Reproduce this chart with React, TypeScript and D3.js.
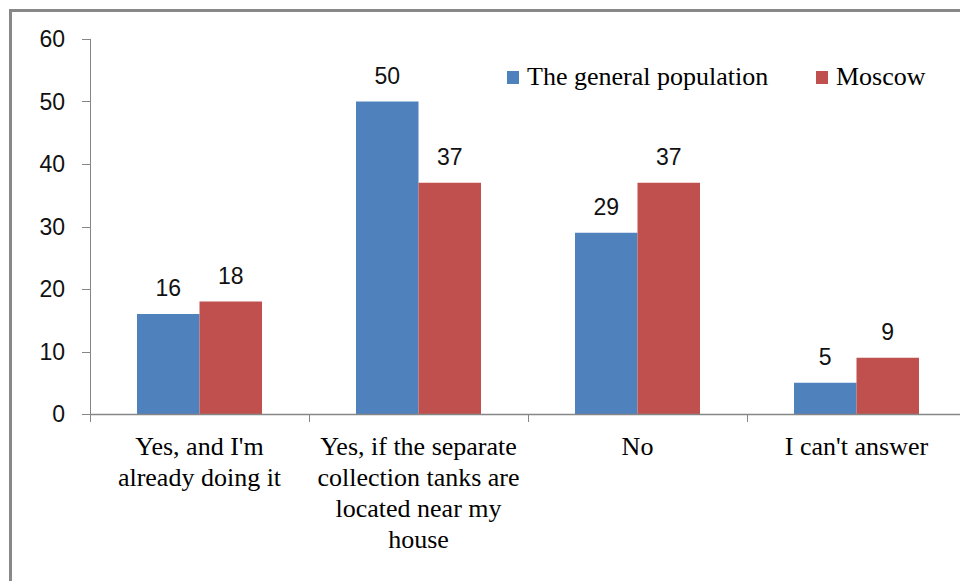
import React from "react";
import * as d3 from "d3";

const categories = [
  ["Yes, and I'm", "already doing it"],
  ["Yes, if the separate", "collection tanks are", "located near my", "house"],
  ["No"],
  ["I can't answer"],
];
const seriesNames = ["The general population", "Moscow"];
const generalValues = [16, 50, 29, 5];
const moscowValues = [18, 37, 37, 9];
const yTicks = [0, 10, 20, 30, 40, 50, 60];
const colors = ["#4F81BD", "#C0504D"];

const W = 960;
const H = 581;
const left = 90;
const right = 966;
const top = 39;
const bottom = 414;

export default function App() {
  const keys = categories.map((_, i) => String(i));
  const x0 = d3.scaleBand<string>().domain(keys).range([left, right]);
  const x1 = d3
    .scaleBand<string>()
    .domain(["0", "1"])
    .range([47, x0.bandwidth() - 47]);
  const y = d3.scaleLinear().domain([0, 60]).range([bottom, top]);
  const series = [generalValues, moscowValues];
  const axisColor = "#868686";
  const sans = "'Liberation Sans', Arial, sans-serif";
  const serif = "'Liberation Serif', 'Times New Roman', serif";

  return (
    <svg
      width={W}
      height={H}
      style={{ position: "absolute", left: 0, top: 0, background: "#fff" }}
    >
      {/* chart frame */}
      <rect x={10.5} y={10.5} width={W + 20} height={H + 20} fill="#fff" stroke="#888" strokeWidth={3} />

      {/* y axis */}
      <line x1={left + 0.5} x2={left + 0.5} y1={top} y2={bottom} stroke={axisColor} />
      {yTicks.map((t) => (
        <g key={t}>
          <line x1={82} x2={left} y1={Math.round(y(t)) + 0.5} y2={Math.round(y(t)) + 0.5} stroke={axisColor} />
          <text
            x={65}
            y={y(t)}
            dy="0.36em"
            textAnchor="end"
            fontFamily={sans}
            fontSize={23}
            fill="#111"
          >
            {t}
          </text>
        </g>
      ))}

      {/* bars */}
      {series.map((vals, s) =>
        vals.map((v, i) => (
          <g key={`${s}-${i}`}>
            <rect
              x={x0(String(i))! + x1(String(s))!}
              y={y(v)}
              width={x1.bandwidth()}
              height={bottom - y(v)}
              fill={colors[s]}
            />
            <text
              x={x0(String(i))! + x1(String(s))! + x1.bandwidth() / 2}
              y={y(v) - 18}
              textAnchor="middle"
              fontFamily={sans}
              fontSize={23}
              fill="#111"
            >
              {v}
            </text>
          </g>
        ))
      )}

      {/* x axis */}
      <line x1={left} x2={W} y1={bottom + 0.5} y2={bottom + 0.5} stroke={axisColor} strokeWidth={1.5} />
      {[...keys.map((k) => x0(k)!), right].map((px, i) => (
        <line key={i} x1={px + 0.5} x2={px + 0.5} y1={bottom} y2={bottom + 8} stroke={axisColor} />
      ))}
      {categories.map((lines, i) => (
        <text
          key={i}
          x={x0(String(i))! + x0.bandwidth() / 2}
          y={455}
          textAnchor="middle"
          fontFamily={serif}
          fontSize={26}
          fill="#000"
        >
          {lines.map((ln, j) => (
            <tspan key={j} x={x0(String(i))! + x0.bandwidth() / 2} dy={j === 0 ? 0 : 31}>
              {ln}
            </tspan>
          ))}
        </text>
      ))}

      {/* legend */}
      {seriesNames.map((name, s) => {
        const lx = [507, 816][s];
        return (
          <g key={name}>
            <rect x={lx} y={71} width={12} height={13} fill={colors[s]} />
            <text x={lx + 20} y={85} fontFamily={serif} fontSize={26} fill="#000">
              {name}
            </text>
          </g>
        );
      })}
    </svg>
  );
}
